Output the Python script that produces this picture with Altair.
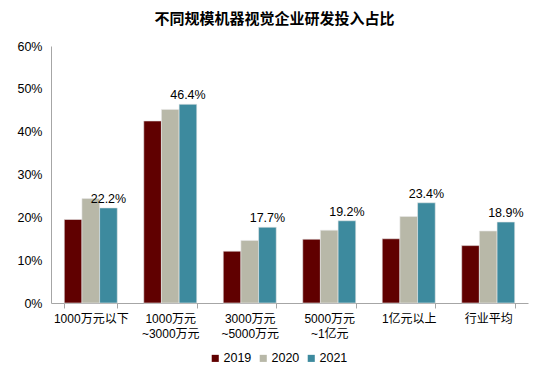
import altair as alt
import pandas as pd

categories = ["1000万元以下", "1000万元\n~3000万元", "3000万元\n~5000万元", "5000万元\n~1亿元", "1亿元以上", "行业平均"]
years = ["2019", "2020", "2021"]
v2019 = [19.5, 42.5, 12.1, 14.9, 15.0, 13.4]
v2020 = [24.4, 45.2, 14.6, 17.0, 20.2, 16.8]
v2021 = [22.2, 46.4, 17.7, 19.2, 23.4, 18.9]
colors = ["#600000", "#B8B8A8", "#3D8A9E"]

rows = []
for i, c in enumerate(categories):
    for y, vals in zip(years, [v2019, v2020, v2021]):
        rows.append({"cat": c, "year": y, "value": vals[i] / 100})
df = pd.DataFrame(rows)
lab = pd.DataFrame({"cat": categories, "year": ["2021"] * 6, "value": [v / 100 for v in v2021],
                    "text": [f"{v:.1f}%" for v in v2021]})

FONT = "Liberation Sans, Noto Sans CJK SC"

x = alt.X("cat:N", sort=categories, title=None,
          scale=alt.Scale(paddingInner=0.333, paddingOuter=0.167),
          axis=alt.Axis(labelAngle=0, labelExpr="split(datum.label, '\\n')",
                        tickBand="extent", domainColor="#A6A6A6", tickColor="#A6A6A6",
                        tickSize=5, labelFontSize=12, labelColor="#000000", labelPadding=5,
                        labelFont=FONT, labelLineHeight=15))
y = alt.Y("value:Q", title=None,
          scale=alt.Scale(domain=[0, 0.6]),
          axis=alt.Axis(format=".0%", values=[0, 0.1, 0.2, 0.3, 0.4, 0.5, 0.6], grid=False,
                        ticks=False, domainColor="#A6A6A6", labelFontSize=12.5,
                        labelColor="#000000", labelFont=FONT, labelPadding=9))

bars = alt.Chart(df).mark_bar(stroke="#E8E8E8", strokeWidth=0.6).encode(
    x=x, y=y,
    xOffset=alt.XOffset("year:N", sort=years),
    color=alt.Color("year:N", sort=years, title=None,
                    scale=alt.Scale(domain=years, range=colors),
                    legend=alt.Legend(orient="none", legendX=158, legendY=306,
                                      direction="horizontal", symbolType="square",
                                      symbolSize=50, labelFontSize=12.5, labelFont=FONT,
                                      labelColor="#000000", columnPadding=5, symbolStrokeWidth=0,
                                      labelOffset=2)),
)

text = alt.Chart(lab).mark_text(dy=-9, fontSize=12.5, font=FONT, color="#000000").encode(
    x=alt.X("cat:N", sort=categories),
    xOffset=alt.XOffset("year:N", sort=years, scale=alt.Scale(domain=years)),
    y="value:Q",
    text="text:N",
)

chart = alt.layer(bars, text).properties(
    width=477, height=257,
    title=alt.TitleParams("不同规模机器视觉企业研发投入占比", fontSize=15, fontWeight="bold",
                          font=FONT, color="#000000", anchor="middle", offset=13, dx=-15),
    padding={"left": 8, "top": 4, "right": 10, "bottom": 5},
).configure_view(stroke=None).configure_axis(domainWidth=1)

chart.save("out.html", embed_options={"renderer": "svg", "actions": False})
